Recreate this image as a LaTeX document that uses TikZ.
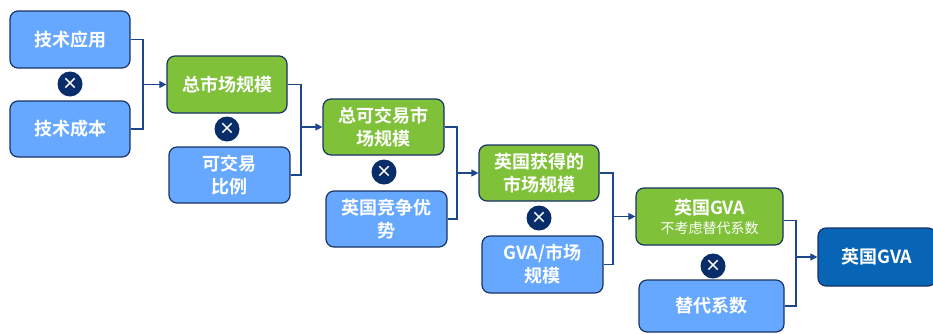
\documentclass[tikz,border=0pt]{standalone}
\usepackage{fontspec}
\setmainfont{Noto Sans CJK SC}[BoldFont=Noto Sans CJK SC Bold]
\usetikzlibrary{arrows.meta}
\definecolor{lblue}{RGB}{102,168,255}
\definecolor{lgreen}{RGB}{128,193,58}
\definecolor{dblue}{RGB}{8,100,180}
\definecolor{navy}{RGB}{24,50,100}
\definecolor{cnavy}{RGB}{8,45,105}
\definecolor{linec}{RGB}{30,70,140}
\tikzset{
  box/.style={draw=navy, line width=1.2pt, rounded corners=8pt, text=white,
    font=\fontsize{18}{23}\selectfont\bfseries, align=center, inner sep=1pt},
  bluebox/.style={box, fill=lblue},
  greenbox/.style={box, fill=lgreen},
  finalbox/.style={box, fill=dblue},
  times/.style={circle, fill=cnavy, minimum size=25pt, inner sep=0pt, text=white,
    font=\fontsize{16}{16}\selectfont\bfseries},
  conn/.style={draw=linec, line width=1.1pt},
  arr/.style={conn, -{Triangle[length=7pt,width=7pt]}}
}
\begin{document}
\begin{tikzpicture}[x=1pt,y=-1pt]
\useasboundingbox (0,0) rectangle (933,333);
\begin{scope}
\clip (0,0) rectangle (933,333);
\node[bluebox, minimum width=120pt, minimum height=57pt] (a) at (70,39.5) {技术应用};
\node[bluebox, minimum width=120pt, minimum height=56pt] (b) at (70,129) {技术成本};
\node[greenbox, minimum width=120pt, minimum height=57pt] (c) at (227,84.5) {总市场规模};
\node[bluebox, minimum width=121pt, minimum height=56pt] (d) at (229.5,175) {可交易\\比例};
\node[greenbox, minimum width=121pt, minimum height=56pt] (e) at (383.5,127) {总可交易市\\场规模};
\node[bluebox, minimum width=121pt, minimum height=56pt] (f) at (386.5,219) {英国竞争优\\势};
\node[greenbox, minimum width=120pt, minimum height=56pt] (g) at (539,173) {英国获得的\\市场规模};
\node[bluebox, minimum width=121pt, minimum height=57pt] (h) at (542.5,264.5) {GVA/市场\\规模};
\node[greenbox, minimum width=147pt, minimum height=57pt] (i) at (709.5,216.5) {英国GVA\\[-4pt]{\fontsize{14}{16}\selectfont\mdseries 不考虑替代系数}};
\node[bluebox, minimum width=145pt, minimum height=52pt] (j) at (711.5,306) {替代系数};
\node[finalbox, minimum width=118pt, minimum height=58pt] (k) at (877,257) {英国GVA};
\end{scope}
\node[times] (x1) at (70,84) {×};
\node[times] (x2) at (227,129) {×};
\node[times] (x3) at (384,172) {×};
\node[times] (x4) at (539,218) {×};
\node[times] (x5) at (713,266) {×};
\coordinate (j1) at (143,0);
\coordinate (j2) at (301,0);
\coordinate (j3) at (457,0);
\coordinate (j4) at (613,0);
\coordinate (j5) at (796,0);
\draw[conn] (a.east) -- (a.east -| j1) |- (b.east);
\draw[arr] (j1 |- c.west) -- (c.west);
\draw[conn] (c.east) -- (c.east -| j2) |- (d.east);
\draw[arr] (j2 |- e.west) -- (e.west);
\draw[conn] (e.east) -- (e.east -| j3) |- (f.east);
\draw[arr] (j3 |- g.west) -- (g.west);
\draw[conn] (g.east) -- (g.east -| j4) |- (h.east);
\draw[arr] (j4 |- i.west) -- (i.west);
\draw[conn] ([yshift=-4pt]i.east) -- ([yshift=-4pt]i.east -| j5) |- (j.east);
\draw[arr] (j5 |- k.west) -- (k.west);
\end{tikzpicture}
\end{document}
